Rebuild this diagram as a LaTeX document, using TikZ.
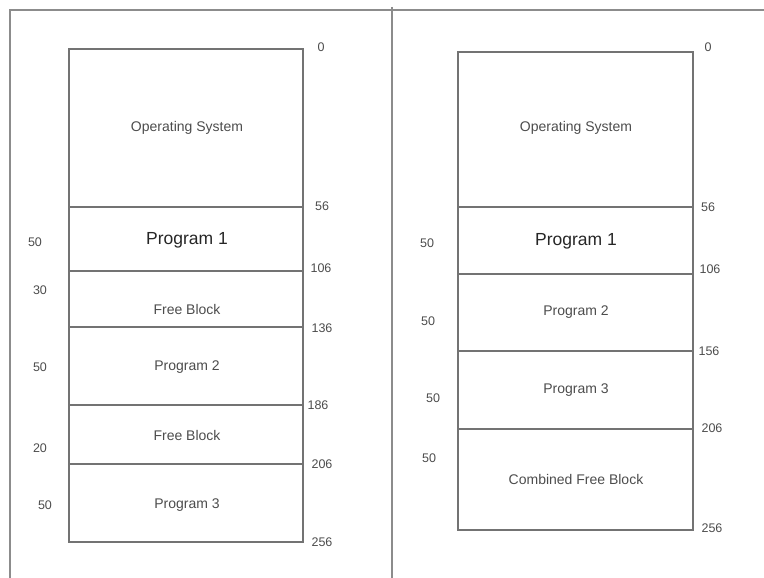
\documentclass[tikz,border=0pt]{standalone}
\usepackage{fontspec}
\setmainfont{Liberation Sans}
\usepackage{xcolor}

\tikzset{
  frameline/.style={line width=2pt,draw=black!45},
  memline/.style={line width=1.2pt,draw=black!55},
  blocktext/.style={font=\fontsize{14}{16}\selectfont,text=black!70},
  bigtext/.style={font=\fontsize{17.5}{20}\selectfont,text=black!85},
  addrtext/.style={font=\fontsize{12.5}{14}\selectfont,text=black!70},
}

\begin{document}
\begin{tikzpicture}[x=1pt,y=-1pt]
  \useasboundingbox (0,0) rectangle (764,578);
  % outer frame
  \draw[frameline] (10,578)--(10,10)--(764,10);
  \draw[frameline] (392,7)--(392,578);

  % left memory map (fragmented)
  \draw[memline] (69,49) rectangle (303,542);
  \foreach \y in {207,271,327,405,464}
    \draw[memline] (69,\y)--(303,\y);
  \node[blocktext] (osA) at (187,128) {Operating System};
  \node[bigtext] (p1A) at (187,240) {Program 1};
  \node[blocktext] (freeA) at (187,309) {Free Block};
  \node[blocktext] (p2A) at (187,367) {Program 2};
  \node[blocktext] (freeB) at (187,435) {Free Block};
  \node[blocktext] (p3A) at (187,505) {Program 3};
  \node[addrtext] (a0) at (321,47) {0};
  \node[addrtext] (a56) at (322,206) {56};
  \node[addrtext] (a106) at (321,268) {106};
  \node[addrtext] (a136) at (322,328) {136};
  \node[addrtext] (a186) at (318,405) {186};
  \node[addrtext] (a206) at (322,464) {206};
  \node[addrtext] (a256) at (322,542) {256};
  \node[addrtext] (sA1) at (35,242) {50};
  \node[addrtext] (sA2) at (40,290) {30};
  \node[addrtext] (sA3) at (40,367) {50};
  \node[addrtext] (sA4) at (40,448) {20};
  \node[addrtext] (sA5) at (45,505) {50};

  % right memory map (compacted)
  \draw[memline] (458,52) rectangle (693,530);
  \foreach \y in {207,274,351,429}
    \draw[memline] (458,\y)--(693,\y);
  \node[blocktext] (osB) at (576,128) {Operating System};
  \node[bigtext] (p1B) at (576,241) {Program 1};
  \node[blocktext] (p2B) at (576,312) {Program 2};
  \node[blocktext] (p3B) at (576,390) {Program 3};
  \node[blocktext] (freeC) at (576,479) {Combined Free Block};
  \node[addrtext] (b0) at (708,47) {0};
  \node[addrtext] (b56) at (708,207) {56};
  \node[addrtext] (b106) at (710,269) {106};
  \node[addrtext] (b156) at (709,351) {156};
  \node[addrtext] (b206) at (712,428) {206};
  \node[addrtext] (b256) at (712,528) {256};
  \node[addrtext] (sB1) at (427,243) {50};
  \node[addrtext] (sB2) at (428,321) {50};
  \node[addrtext] (sB3) at (433,398) {50};
  \node[addrtext] (sB4) at (429,458) {50};
\end{tikzpicture}
\end{document}
